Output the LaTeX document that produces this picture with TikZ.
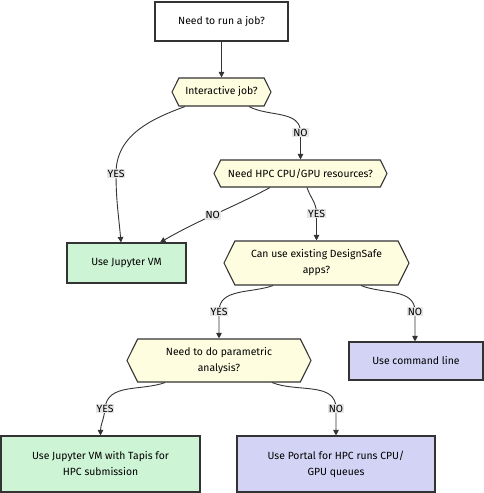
\documentclass[tikz,border=0pt]{standalone}
\usepackage{fontspec}
\setmainfont{Fira Sans}
\usetikzlibrary{shapes.symbols,arrows.meta}
\definecolor{edgegray}{HTML}{333333}
\definecolor{askfill}{HTML}{FEFDE0}
\definecolor{jupfill}{HTML}{CEF4D6}
\definecolor{hpcfill}{HTML}{D3D3F6}
\definecolor{lblgray}{HTML}{E6E6E6}
\newcommand{\flowfont}{\fontsize{10.4}{16}\selectfont}
\tikzset{
  stepbox/.style={draw=edgegray, line width=1.1pt, rectangle, align=center,
    inner sep=0pt, font=\flowfont},
  askbox/.style={draw=edgegray, line width=1.1pt, fill=askfill, signal,
    signal to=west and east, signal pointer angle=127, align=center,
    inner sep=0pt, font=\flowfont},
  lbl/.style={fill=lblgray, inner sep=1pt, font=\flowfont},
  flow/.style={draw=edgegray, line width=0.9pt, ->,
    >={Triangle[length=5.5pt,width=5.5pt]}}
}

\begin{document}
\begin{tikzpicture}[x=1pt,y=1pt]
    \useasboundingbox (0,0) rectangle (484,-493);

    \draw(221.5,-21.5) node[stepbox, minimum width=133, minimum height=39] (start) {Need to run a job?};
    \draw(221.5,-92) node[askbox, minimum width=99, minimum height=28] (inter) {Interactive job?};
    \draw(300.5,-173.5) node[askbox, minimum width=173, minimum height=27] (hpc) {Need HPC CPU/GPU resources?};
    \draw(126.5,-263) node[stepbox, fill=jupfill, minimum width=119, minimum height=40] (jvm) {Use Jupyter VM};
    \draw(316.5,-263) node[askbox, minimum width=185, minimum height=44] (apps) {Can use existing DesignSafe\\apps?};
    \draw(416,-361) node[stepbox, fill=hpcfill, minimum width=134, minimum height=38] (cli) {Use command line};
    \draw(219,-360.5) node[askbox, minimum width=184, minimum height=43] (param) {Need to do parametric\\analysis?};
    \draw(100.5,-464) node[stepbox, fill=jupfill, minimum width=199, minimum height=56] (tapis) {Use Jupyter VM with Tapis for\\HPC submission};
    \draw(336,-464) node[stepbox, fill=hpcfill, minimum width=198, minimum height=56] (portal) {Use Portal for HPC runs CPU/\\GPU queues};

    \draw[flow] (start) -- (inter);
    \draw[flow] ([xshift=-36.5]inter.south) to[out=200, in=90] ([xshift=-10.5,yshift=69]jvm.north) node[lbl] {YES}
        to[out=-90, in=95] ([xshift=-5.5]jvm.north);
    \draw[flow] ([xshift=27.5]inter.south) to[out=-28, in=90] ([yshift=27]hpc.north) node[lbl] {NO} -- (hpc.north);
    \draw[flow] ([xshift=-30.5]hpc.south) to[out=-152, in=30] node[lbl, pos=0.52] {NO} ([xshift=33.5]jvm.north);
    \draw[flow] ([xshift=6.5]hpc.south) to[out=-72, in=90] ([yshift=27]apps.north) node[lbl] {YES} -- (apps.north);
    \draw[flow] ([xshift=-43.5]apps.south) to[out=-160, in=90] ([yshift=27]param.north) node[lbl] {YES} -- (param.north);
    \draw[flow] ([xshift=44.5]apps.south) to[out=-22, in=90] ([xshift=-1,yshift=30]cli.north) node[lbl] {NO} -- ([xshift=-1]cli.north);
    \draw[flow] ([xshift=-54]param.south) to[out=-160, in=85] ([xshift=4.5,yshift=27]tapis.north) node[lbl] {YES}
        to[out=-95, in=90] (tapis.north);
    \draw[flow] ([xshift=53]param.south) to[out=-22, in=90] ([yshift=27]portal.north) node[lbl] {NO} -- (portal.north);

\end{tikzpicture}
\end{document}
